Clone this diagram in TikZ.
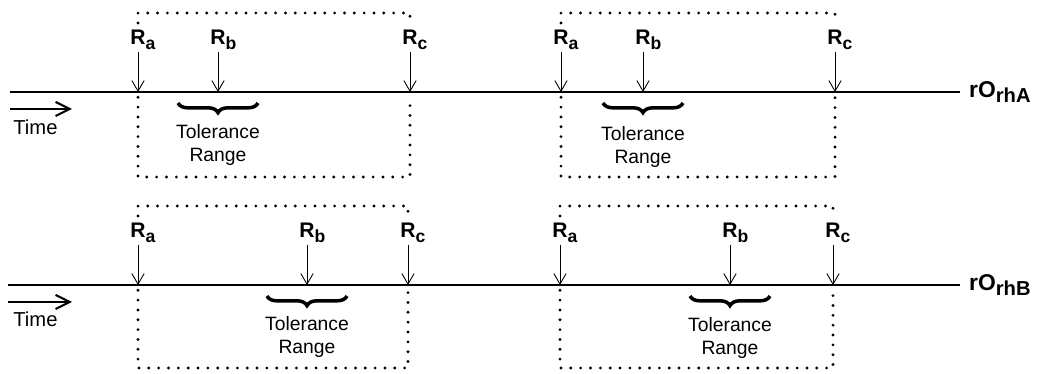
\documentclass[tikz,border=0pt]{standalone}
\usepackage{fontspec}
\setmainfont{Liberation Sans}
\usepackage{tikz}
\usetikzlibrary{positioning, arrows.meta, calc, decorations.pathreplacing}

\newcommand{\rlab}[1]{\textbf{R}\rlap{\raisebox{-2.6pt}{\fontsize{10}{12}\selectfont\bfseries #1}}}
\newcommand{\rholab}[1]{\textbf{rO}\raisebox{-3.2pt}{\fontsize{11.5}{13}\selectfont\bfseries rh#1}}

\begin{document}
\begin{tikzpicture}[x=0.02cm, y=-0.02cm,
    rnode/.style={inner sep=1pt, font=\fontsize{12}{14}\selectfont},
    tick/.style={line width=0.5pt, -{Straight Barb[length=6pt, width=7pt]}},
    tline/.style={line width=0.9pt},
    dotbox/.style={line width=1.8pt, line cap=round, dash pattern=on 0pt off 5.6pt},
    brc/.style={line width=2pt, decorate, decoration={brace, amplitude=5.5pt}},
    tol/.style={align=center, inner sep=0pt, font=\fontsize{11}{13}\selectfont},
    timearr/.style={line width=1.2pt, -{Straight Barb[length=8pt, width=8pt]}}
]
\useasboundingbox (0,0) rectangle (1046,374);

% upper time line
\coordinate (sA) at (10,92);
\coordinate (eA) at (960,92);
\coordinate (topA) at (0,13);
\coordinate (botA) at (0,177);
\draw[tline] (sA) -- (eA);
\node[right=5pt of eA, inner sep=0pt, font=\fontsize{13}{15}\selectfont] (rhoA) {\rholab{A}};
\coordinate (tA0) at (10,109);
\coordinate (tA1) at (72,109);
\draw[timearr] (tA0) -- (tA1);
\node[anchor=west, inner sep=0pt, font=\fontsize{11.5}{13}\selectfont] (timeA) at (13,127) {Time};

% lower time line
\coordinate (sB) at (8,285);
\coordinate (eB) at (960,285);
\coordinate (topB) at (0,206);
\coordinate (botB) at (0,368);
\draw[tline] (sB) -- (eB);
\node[right=5pt of eB, inner sep=0pt, font=\fontsize{13}{15}\selectfont] (rhoB) {\rholab{B}};
\coordinate (tB0) at (8,302);
\coordinate (tB1) at (72,302);
\draw[timearr] (tB0) -- (tB1);
\node[anchor=west, inner sep=0pt, font=\fontsize{11.5}{13}\selectfont] (timeB) at (13,319) {Time};

% window 1
\coordinate (a1) at (138,92);
\coordinate (b1) at (218,92);
\coordinate (c1) at (410,92);
\node[rnode] (la1) at (138,40) {\rlab{a}};
\node[rnode] (lb1) at (218,40) {\rlab{b}};
\node[rnode] (lc1) at (410,40) {\rlab{c}};
\draw[tick] (la1) -- (a1);
\draw[tick] (lb1) -- (b1);
\draw[tick] (lc1) -- (c1);
\draw[dotbox] ([yshift=3pt]la1.north) -- (la1 |- topA) -- (lc1 |- topA) -- ([yshift=3pt]lc1.north);
\draw[dotbox] ([yshift=-3pt]a1) -- (a1 |- botA) -- (c1 |- botA) -- ([yshift=-3pt]c1);
\draw[brc] ($(b1)+(40,11)$) -- ($(b1)+(-40,11)$);
\node[tol] (tol1) at (218,145) {Tolerance\\Range};

% window 2
\coordinate (a2) at (561,92);
\coordinate (b2) at (643,92);
\coordinate (c2) at (835,92);
\node[rnode] (la2) at (561,40) {\rlab{a}};
\node[rnode] (lb2) at (643,40) {\rlab{b}};
\node[rnode] (lc2) at (835,40) {\rlab{c}};
\draw[tick] (la2) -- (a2);
\draw[tick] (lb2) -- (b2);
\draw[tick] (lc2) -- (c2);
\draw[dotbox] ([yshift=3pt]la2.north) -- (la2 |- topA) -- (lc2 |- topA) -- ([yshift=3pt]lc2.north);
\draw[dotbox] ([yshift=-3pt]a2) -- (a2 |- botA) -- (c2 |- botA) -- ([yshift=-3pt]c2);
\draw[brc] ($(b2)+(40,11)$) -- ($(b2)+(-40,11)$);
\node[tol] (tol2) at (643,147) {Tolerance\\Range};

% window 3
\coordinate (a3) at (138,285);
\coordinate (b3) at (307,285);
\coordinate (c3) at (408,285);
\node[rnode] (la3) at (138,233) {\rlab{a}};
\node[rnode] (lb3) at (307,233) {\rlab{b}};
\node[rnode] (lc3) at (408,233) {\rlab{c}};
\draw[tick] (la3) -- (a3);
\draw[tick] (lb3) -- (b3);
\draw[tick] (lc3) -- (c3);
\draw[dotbox] ([yshift=3pt]la3.north) -- (la3 |- topB) -- (lc3 |- topB) -- ([yshift=3pt]lc3.north);
\draw[dotbox] ([yshift=-3pt]a3) -- (a3 |- botB) -- (c3 |- botB) -- ([yshift=-3pt]c3);
\draw[brc] ($(b3)+(40,11)$) -- ($(b3)+(-40,11)$);
\node[tol] (tol3) at (307,337) {Tolerance\\Range};

% window 4
\coordinate (a4) at (560,285);
\coordinate (b4) at (730,285);
\coordinate (c4) at (833,285);
\node[rnode] (la4) at (560,233) {\rlab{a}};
\node[rnode] (lb4) at (730,233) {\rlab{b}};
\node[rnode] (lc4) at (833,233) {\rlab{c}};
\draw[tick] (la4) -- (a4);
\draw[tick] (lb4) -- (b4);
\draw[tick] (lc4) -- (c4);
\draw[dotbox] ([yshift=3pt]la4.north) -- (la4 |- topB) -- (lc4 |- topB) -- ([yshift=3pt]lc4.north);
\draw[dotbox] ([yshift=-3pt]a4) -- (a4 |- botB) -- (c4 |- botB) -- ([yshift=-3pt]c4);
\draw[brc] ($(b4)+(40,11)$) -- ($(b4)+(-40,11)$);
\node[tol] (tol4) at (730,338) {Tolerance\\Range};
\end{tikzpicture}
\end{document}
